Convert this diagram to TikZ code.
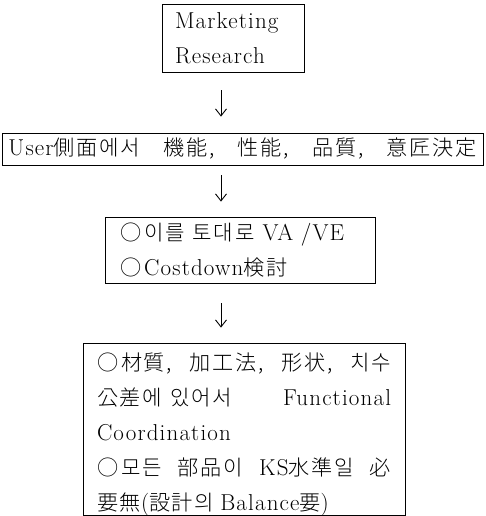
\documentclass[tikz,border=0pt]{standalone}
\usepackage{fontspec}
\setmainfont{Latin Modern Roman}[LetterSpace=5]
\newfontfamily\kr{Noto Sans CJK KR}[UprightFont=* Light, Scale=0.92, LetterSpace=8]
\usetikzlibrary{arrows.meta}
\newcommand{\spreadline}[1]{\makebox[\hsize][s]{#1}}
\tikzset{
  flowbox/.style={draw, line width=0.8pt, rectangle, inner sep=0pt, align=left,
    font=\fontsize{23}{35}\selectfont},
  down/.style={-{Straight Barb[length=7pt,width=11pt]}, line width=0.9pt},
}

\begin{document}
\begin{tikzpicture}[x=1pt,y=-1pt]
\useasboundingbox (0,0) rectangle (486,516);
\coordinate (ax) at (221,0);
\node[flowbox, minimum width=142pt, minimum height=68pt, text width=116pt] (mr) at (233,38) {Marketing\\Research};
\node[flowbox, minimum width=481pt, minimum height=32pt, text width=468pt] (user) at (242.5,149)
  {\spreadline{User{\kr 側面에서}\hfill{\kr 機能,}\hfill{\kr 性能,}\hfill{\kr 品質,}\hfill{\kr 意匠決定}}};
\node[flowbox, minimum width=270pt, minimum height=66pt, text width=240pt] (vave) at (240,250)
  {{\kr ○\hspace{3pt}이를\hspace{8pt}토대로}\hspace{8pt}VA /VE\\{\kr ○\hspace{3pt}}Costdown{\kr 検討}};
\node[flowbox, minimum width=322pt, minimum height=172pt, text width=294pt] (detail) at (244,429)
  {\rule{0pt}{22pt}\spreadline{\kr ○\hspace{3pt}材質,\hfill 加工法,\hfill 形状,\hfill 치수}\\
   \spreadline{{\kr 公差에\hspace{8pt}있어서}\hfill Functional}\\
   Coordination\\
   \spreadline{{\kr ○\hspace{3pt}모든}\hfill{\kr 部品이}\hfill KS{\kr 水準일}\hfill{\kr 必}}\\
   \raisebox{0pt}[\height][0pt]{{\kr 要無}({\kr 設計의}\hspace{6pt}Balance{\kr 要})}};
\draw[down, shorten <=18pt, shorten >=16pt] (mr.south -| ax) -- (user.north -| ax);
\draw[down, shorten <=10pt, shorten >=15pt] (user.south -| ax) -- (vave.north -| ax);
\draw[down, shorten <=20pt, shorten >=15pt] (vave.south -| ax) -- (detail.north -| ax);
\end{tikzpicture}
\end{document}
